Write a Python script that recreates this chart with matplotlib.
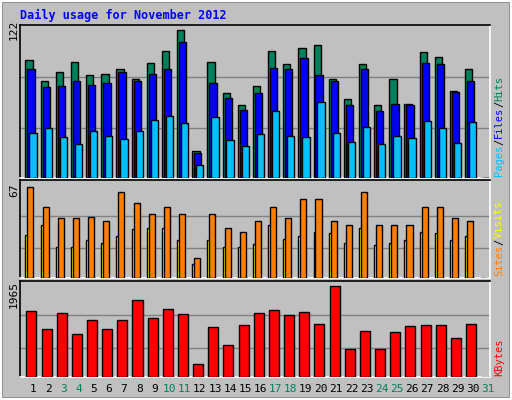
import matplotlib
matplotlib.use("Agg")
import matplotlib.pyplot as plt
from matplotlib.patches import Rectangle
import numpy as np

days = [str(d) for d in range(1, 32)]
weekend_days = [3, 4, 10, 11, 17, 18, 24, 25, 31]
hits = [97, 80, 87, 96, 85, 86, 90, 82, 95, 105, 122, 22, 96, 70, 60, 76, 105, 94, 107, 110,
        82, 65, 94, 60, 82, 61, 104, 100, 72, 90, 0]
files = [90, 75, 76, 80, 77, 78, 87, 80, 86, 90, 112, 21, 78, 66, 56, 70, 91, 90, 99, 85,
         80, 60, 90, 55, 61, 60, 95, 94, 71, 80, 0]
pages = [37, 41, 34, 28, 39, 35, 32, 39, 48, 51, 45, 11, 50, 31, 26, 36, 55, 35, 34, 63,
         37, 30, 42, 28, 35, 33, 47, 41, 29, 46, 0]
visits = [67, 52, 44, 44, 45, 42, 63, 55, 47, 52, 47, 15, 47, 37, 34, 42, 52, 44, 58, 58,
          42, 39, 63, 39, 39, 39, 52, 52, 44, 42, 0]
sites = [32, 39, 23, 23, 28, 26, 31, 36, 37, 37, 28, 10, 28, 23, 23, 25, 39, 29, 31, 34,
         33, 26, 37, 24, 26, 28, 34, 33, 28, 31, 0]
kbytes = [1425, 1036, 1382, 928, 1231, 1036, 1231, 1663, 1274, 1468, 1360, 281, 1080, 691,
          1123, 1382, 1447, 1339, 1404, 1144, 1965, 605, 993, 605, 972, 1101, 1123, 1123, 842,
          1144, 0]

W, H = 512, 400
fig = plt.figure(figsize=(W/100, H/100), dpi=100)
fig.patch.set_facecolor("#C0C0C0")
mono = "DejaVu Sans Mono"

fig.add_artist(Rectangle((0, 0), 1, 1, transform=fig.transFigure, fill=False,
                         edgecolor="#808080", lw=4))
fig.add_artist(Rectangle((1/W, 1/H), 1-2/W, 1-2/H, transform=fig.transFigure, fill=False,
                         edgecolor="white", lw=1.5))

fig.text(20/W, 1-15/H, "Daily usage for November 2012", color="#0000ff",
         fontfamily=mono, fontweight="bold", fontsize=8.5, va="center")

x = np.arange(31)
L, R = 20/W, 490/W

def panel(top, bot, vmax):
    ax = fig.add_axes([L, 1-bot/H, R-L, (bot-top)/H])
    ax.set_facecolor("#C0C0C0")
    ax.set_xlim(-0.86, 30.14)
    ax.set_ylim(0, vmax)
    ax.set_xticks([]); ax.set_yticks([])
    for name, s in ax.spines.items():
        s.set_linewidth(1.2)
        s.set_color("black" if name in ("top", "left") else "white")
    return ax

bk = dict(edgecolor="black", linewidth=1, align="edge", zorder=3)

ax1 = panel(25, 178, 122 * 152/147)
for f in (0.34, 0.68):
    ax1.axhline(122*f, color="#808080", lw=1, zorder=1)
ax1.bar(x-0.5, hits, 0.48, color="#00805c", **bk)
ax1.bar(x-0.37, files, 0.48, color="#0000ff", **bk)
ax1.bar(x-0.24, pages, 0.48, color="#00c0ff", **bk)

ax2 = panel(180, 278, 67 * 99/92)
for f in (0.326, 0.685):
    ax2.axhline(67*f, color="#808080", lw=1, zorder=1)
ax2.bar(x-0.5, sites, 0.27, color="#ffff00", **bk)
ax2.bar(x-0.37, visits, 0.4, color="#ff8000", **bk)

ax3 = panel(281, 377, 1965 * 96/91)
for f in (0.32, 0.68):
    ax3.axhline(1965*f, color="#808080", lw=1, zorder=1)
ax3.bar(x-0.44, kbytes, 0.66, color="#ff0000", **bk)

fig.text(14/W, 1-30/H, "122", rotation=90, fontfamily=mono, fontsize=8, ha="center", va="center")
fig.text(14/W, 1-190/H, "67", rotation=90, fontfamily=mono, fontsize=8, ha="center", va="center")
fig.text(14/W, 1-295/H, "1965", rotation=90, fontfamily=mono, fontsize=8, ha="center", va="center")

renderer = fig.canvas.get_renderer()
def stack(parts, ybottom):
    y = ybottom
    for txt, col in parts:
        t = fig.text(499/W, y/H, txt, rotation=90, color=col, fontfamily=mono, fontsize=7.5,
                     ha="center", va="bottom")
        bb = t.get_window_extent(renderer=renderer)
        y += bb.height
stack([("Pages", "#00c0ff"), ("/", "black"), ("Files", "#0000ff"), ("/", "black"), ("Hits", "#00805c")], 400-176)
stack([("Sites", "#ff8000"), ("/", "black"), ("Visits", "#ffff00")], 400-276)
stack([("KBytes", "#ff0000")], 400-376)

for i, d in enumerate(days):
    col = "#00805c" if int(d) in weekend_days else "black"
    xp = L + (i + 0.86) / 31 * (R - L)
    fig.text(xp, 1-389/H, d, color=col, fontfamily=mono, fontsize=8, ha="center", va="center")

fig.savefig("out.png", dpi=100, facecolor=fig.get_facecolor())
